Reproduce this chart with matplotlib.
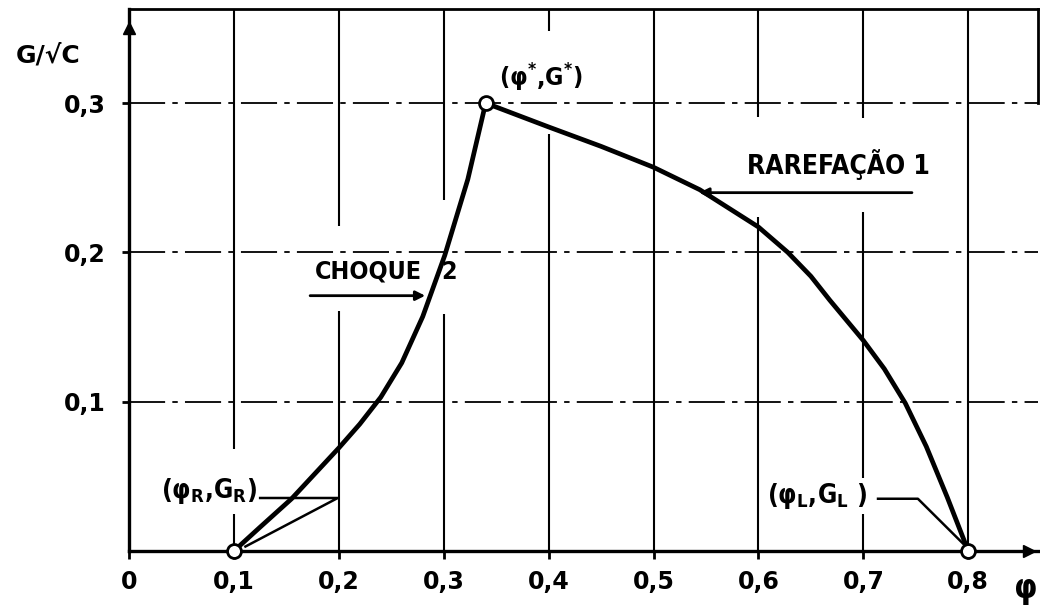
import matplotlib.pyplot as plt
from matplotlib import font_manager

choque_phi = [0.100, 0.125, 0.155, 0.200, 0.220, 0.240, 0.260, 0.280, 0.301, 0.323, 0.340]
choque_g = [0.000, 0.016, 0.035, 0.069, 0.085, 0.103, 0.126, 0.157, 0.198, 0.249, 0.300]

rare_phi = [0.340, 0.400, 0.450, 0.500, 0.544, 0.600, 0.628, 0.650, 0.668, 0.700,
            0.720, 0.740, 0.760, 0.780, 0.800]
rare_g = [0.300, 0.284, 0.271, 0.257, 0.242, 0.217, 0.200, 0.184, 0.168, 0.141,
          0.122, 0.099, 0.070, 0.036, 0.000]

# state points R, *, L
point_phi = [0.10, 0.34, 0.80]
point_g = [0.00, 0.30, 0.00]

x_ticks = [0.0, 0.1, 0.2, 0.3, 0.4, 0.5, 0.6, 0.7, 0.8]
x_labels = ["0", "0,1", "0,2", "0,3", "0,4", "0,5", "0,6", "0,7", "0,8"]
y_ticks = [0.1, 0.2, 0.3]
y_labels = ["0,1", "0,2", "0,3"]

# blank stretches of the vertical grid lines in the drawing (G from, G to)
grid_gaps = {0.1: (0.025, 0.068), 0.2: (0.161, 0.218), 0.3: (0.159, 0.235),
             0.4: (0.279, 0.348), 0.6: (0.224, 0.291), 0.7: (0.227, 0.290)}

X_MAX = 0.8665
Y_MAX = 0.363

names = {f.name for f in font_manager.fontManager.ttflist}
LABEL_FONT = "Liberation Sans Narrow" if "Liberation Sans Narrow" in names else "DejaVu Sans"

plt.rcParams["mathtext.fontset"] = "custom"
plt.rcParams["mathtext.rm"] = f"{LABEL_FONT}:bold:stretch=condensed"
plt.rcParams["mathtext.it"] = f"{LABEL_FONT}:bold:stretch=condensed"
plt.rcParams["mathtext.bf"] = f"{LABEL_FONT}:bold:stretch=condensed"
plt.rcParams["mathtext.default"] = "rm"

fig = plt.figure(figsize=(10.4, 6.08), dpi=100)
ax = fig.add_axes([129 / 1040, 57 / 608, 909 / 1040, 542 / 608])
ax.set_xlim(0, X_MAX)
ax.set_ylim(0, Y_MAX)

# grid
for x in x_ticks[1:]:
    gap = grid_gaps.get(x)
    if gap:
        ax.vlines([x, x], [0, gap[1]], [gap[0], Y_MAX], color="black", lw=1.5, zorder=1)
    else:
        ax.vlines(x, 0, Y_MAX, color="black", lw=1.5, zorder=1)
ax.hlines(y_ticks, 0, X_MAX, color="black", lw=1.3, linestyles=[(0, (20, 4, 3, 4))], zorder=1)

# frame
for side in ["left", "bottom"]:
    ax.spines[side].set_linewidth(2.4)
ax.spines["top"].set_linewidth(2.0)
ax.spines["right"].set_linewidth(2.0)
ax.spines["right"].set_bounds(0.3, Y_MAX)
ax.plot(0, 0.965, marker="^", ms=9, color="black", transform=ax.transAxes, clip_on=False, zorder=5)
ax.plot(0.99, 0, marker=">", ms=9, color="black", transform=ax.transAxes, clip_on=False, zorder=5)

ax.set_xticks(x_ticks)
ax.set_xticklabels(x_labels, fontsize=17, fontweight="bold", family="DejaVu Sans")
ax.set_yticks(y_ticks)
ax.set_yticklabels(y_labels, fontsize=17, fontweight="bold", family="DejaVu Sans")
ax.tick_params(axis="x", direction="out", length=6, width=2, pad=8)
ax.tick_params(axis="y", direction="out", length=5, width=2, pad=12)

# curves and points
ax.plot(choque_phi, choque_g, color="black", lw=3.4, solid_capstyle="round",
        solid_joinstyle="round", zorder=3)
ax.plot(rare_phi, rare_g, color="black", lw=3.4, solid_capstyle="round",
        solid_joinstyle="round", zorder=3)
ax.plot(point_phi, point_g, "o", ms=10, mfc="white", mec="black", mew=2, clip_on=False, zorder=4)

# labels and leaders
txt = dict(color="black", fontsize=18, fontweight="bold", fontstretch="condensed",
           family=LABEL_FONT, zorder=2)
box = dict(fc="white", ec="none", pad=2)
ax.text(0.122, 0.040, r"($\varphi_R$,$G_R$)", ha="right", va="center", bbox=box,
        **{**txt, "fontsize": 19})
ax.plot([0.125, 0.199, 0.111], [0.0355, 0.0355, 0.003], color="black", lw=1.8, zorder=3)
ax.text(0.704, 0.037, r"($\varphi_L$,$G_L$ )", ha="right", va="center", bbox=box,
        **{**txt, "fontsize": 19})
ax.plot([0.714, 0.752, 0.795], [0.035, 0.035, 0.005], color="black", lw=1.8, zorder=3)
ax.text(0.393, 0.317, r"($\varphi^{*}$,$G^{*}$)", ha="center", va="center", **txt)

ax.text(0.228, 0.187, "CHOQUE", ha="center", va="center", **txt)
ax.text(0.305, 0.187, "2", ha="center", va="center", **txt)
ax.annotate("", xy=(0.285, 0.171), xytext=(0.170, 0.171),
            arrowprops=dict(arrowstyle="-|>", color="black", lw=2, mutation_scale=14), zorder=3)
ax.text(0.676, 0.259, "RAREFAÇÃO 1", ha="center", va="center", **{**txt, "fontsize": 19})
ax.annotate("", xy=(0.541, 0.240), xytext=(0.749, 0.240),
            arrowprops=dict(arrowstyle="-|>", color="black", lw=2, mutation_scale=14), zorder=3)

ax.text(-0.089, 0.915, "G/√C", transform=ax.transAxes, ha="center", va="center",
        fontsize=18, fontweight="bold", family="DejaVu Sans")
ax.text(0.986, -0.072, r"$\varphi$", transform=ax.transAxes, ha="center", va="center", fontsize=24)

fig.savefig("out.png", dpi=100)
